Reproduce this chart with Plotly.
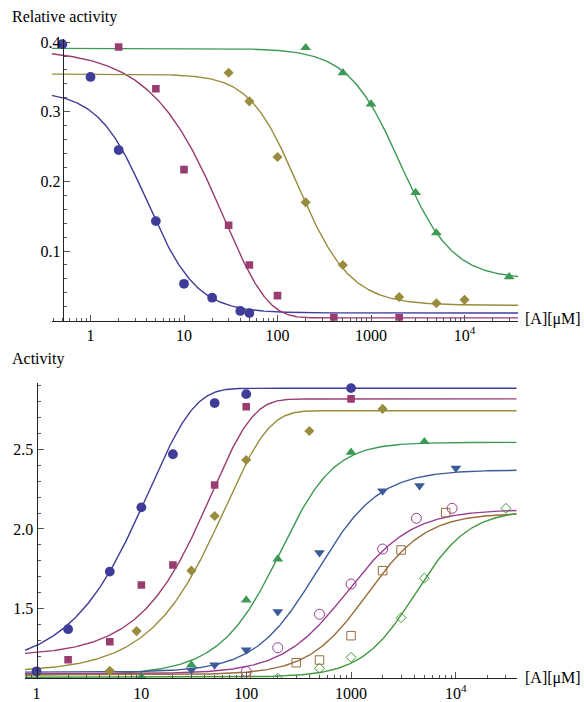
import numpy as np
import plotly.graph_objects as go

W, H = 584, 702

# ---------------- top panel data (Relative activity) ----------------
top_blue_x = [0.5, 1, 2, 5, 10, 20, 40, 50]
top_blue_y = [0.397, 0.350, 0.245, 0.143, 0.053, 0.033, 0.014, 0.011]
top_mag_x = [2, 5, 10, 30, 50, 100, 400, 2000]
top_mag_y = [0.393, 0.333, 0.217, 0.137, 0.080, 0.036, 0.005, 0.004]
top_gold_x = [30, 50, 100, 200, 500, 2000, 5000, 10000]
top_gold_y = [0.356, 0.315, 0.235, 0.170, 0.080, 0.034, 0.025, 0.030]
top_green_x = [200, 500, 1000, 3000, 5000, 30000]
top_green_y = [0.392, 0.356, 0.311, 0.184, 0.126, 0.063]

# fitted-curve parameters:
# (left level, right level, model, midpoint, steepness, asymmetry)
top_blue_fit = (0.330, 0.011, "hill", 4.05, 1.65, 1.0)
top_mag_fit = (0.390, 0.004, "weib", 27.1, 0.95, 1.0)
top_gold_fit = (0.354, 0.022, "hill", 137.0, 1.5, 1.3)
top_green_fit = (0.391, 0.060, "hill", 2059.0, 1.56, 1.0)

# ---------------- bottom panel data (Activity) ----------------
bot_blue_x = [1, 2, 5, 10, 20, 50, 100, 1000]
bot_blue_y = [1.105, 1.370, 1.732, 2.136, 2.470, 2.792, 2.848, 2.886]
bot_mag_x = [2, 5, 10, 20, 50, 100, 1000]
bot_mag_y = [1.178, 1.291, 1.648, 1.774, 2.277, 2.769, 2.818]
bot_gold_x = [5, 9, 30, 50, 100, 400, 2000]
bot_gold_y = [1.108, 1.358, 1.738, 2.082, 2.434, 2.616, 2.755]
bot_green_x = [10, 30, 100, 200, 1000, 5000]
bot_green_y = [1.071, 1.145, 1.553, 1.811, 2.482, 2.549]
bot_navy_x = [30, 50, 100, 200, 500, 2000, 4500, 10000]
bot_navy_y = [1.113, 1.145, 1.239, 1.480, 1.851, 2.239, 2.272, 2.382]
bot_purple_x = [100, 200, 500, 1000, 2000, 4200, 9200]
bot_purple_y = [1.103, 1.253, 1.464, 1.654, 1.874, 2.067, 2.130]
bot_brown_x = [100, 300, 500, 1000, 2000, 3000, 8000]
bot_brown_y = [1.071, 1.159, 1.176, 1.329, 1.738, 1.868, 2.103]
bot_lgreen_x = [200, 500, 1000, 3000, 5000, 30000]
bot_lgreen_y = [1.061, 1.124, 1.193, 1.442, 1.690, 2.130]

bot_blue_fit = (1.125, 2.885, "weib", 11.8, 1.0, 1.0)
bot_mag_fit = (1.200, 2.818, "weib", 46.9, 1.1, 1.0)
bot_gold_fit = (1.100, 2.744, "weib", 63.6, 1.05, 1.0)
bot_green_fit = (1.080, 2.545, "hill", 263.0, 1.8, 0.7)
bot_navy_fit = (1.100, 2.371, "hill", 473.0, 1.47, 1.0)
bot_purple_fit = (1.090, 2.122, "hill", 918.0, 1.4, 1.0)
bot_brown_fit = (1.083, 2.100, "hill", 1430.0, 1.55, 1.0)
bot_lgreen_fit = (1.068, 2.120, "hill", 4100.0, 1.7, 1.0)

# tick labels
x_tick_vals = [1, 10, 100, 1000, 10000]
x_tick_text = ["1", "10", "100", "1000", "10<sup>4</sup>"]
top_y_tick_vals = [0.1, 0.2, 0.3, 0.4]
top_y_tick_text = ["0.1", "0.2", "0.3", "0.4"]
bot_y_tick_vals = [1.5, 2.0, 2.5]
bot_y_tick_text = ["1.5", "2.0", "2.5"]

# Mathematica default palette
C_BLUE = "#3F3D99"
C_MAG = "#993D71"
C_GOLD = "#998C3D"
C_GREEN = "#3D9956"
C_NAVY = "#3D5A99"
C_PURPLE = "#993D90"
C_BROWN = "#996D3D"
C_LGREEN = "#43993D"

TOP_XR = [-0.415, 4.575]
BOT_XR = [-0.11, 4.58]
TOP_YR = [0.0, 0.4045]
BOT_YR = [1.061, 2.920]


def curve(fit, xr):
    left, right, model, c, h, s = fit
    x = np.logspace(xr[0], xr[1], 500)
    if model == "hill":
        g = (1.0 + (c / x) ** h) ** (-s)
    else:
        g = 1.0 - np.exp(-((x / c) ** h))
    return x, left + (right - left) * g


fig = go.Figure()

top_series = [
    (top_blue_x, top_blue_y, top_blue_fit, C_BLUE, "circle", 9.8),
    (top_mag_x, top_mag_y, top_mag_fit, C_MAG, "square", 7.6),
    (top_gold_x, top_gold_y, top_gold_fit, C_GOLD, "diamond", 7.8),
    (top_green_x, top_green_y, top_green_fit, C_GREEN, "triangle-up", 9.5),
]
bot_series = [
    (bot_blue_x, bot_blue_y, bot_blue_fit, C_BLUE, "circle", 9.8),
    (bot_mag_x, bot_mag_y, bot_mag_fit, C_MAG, "square", 7.6),
    (bot_gold_x, bot_gold_y, bot_gold_fit, C_GOLD, "diamond", 7.8),
    (bot_green_x, bot_green_y, bot_green_fit, C_GREEN, "triangle-up", 9.5),
    (bot_navy_x, bot_navy_y, bot_navy_fit, C_NAVY, "triangle-down", 9.5),
    (bot_purple_x, bot_purple_y, bot_purple_fit, C_PURPLE, "circle-open", 10),
    (bot_brown_x, bot_brown_y, bot_brown_fit, C_BROWN, "square-open", 8.5),
    (bot_lgreen_x, bot_lgreen_y, bot_lgreen_fit, C_LGREEN, "diamond-open", 7.6),
]

for series, xa, ya, xr in [(top_series, "x", "y", TOP_XR), (bot_series, "x2", "y2", BOT_XR)]:
    for xs, ys, fit, col, sym, sz in series:
        cx, cy = curve(fit, xr)
        fig.add_trace(go.Scatter(x=cx, y=cy, mode="lines", xaxis=xa, yaxis=ya,
                                 line=dict(color=col, width=1.4), hoverinfo="skip",
                                 showlegend=False))
    for xs, ys, fit, col, sym, sz in series:
        fig.add_trace(go.Scatter(x=xs, y=ys, mode="markers", xaxis=xa, yaxis=ya,
                                 marker=dict(symbol=sym, size=sz, color=col,
                                             line=dict(color=col, width=1 if "open" in sym else 0)),
                                 showlegend=False))


def log_minor(xr):
    vals = []
    for k in range(-1, 6):
        for d in range(2, 10):
            v = d * 10.0 ** k
            if xr[0] <= np.log10(v) <= xr[1]:
                vals.append(v)
    return vals


def lin_minor(lo, hi, step, majors):
    vals = []
    n = int(round((hi - lo) / step))
    for i in range(n + 1):
        v = round(lo + i * step, 4)
        if all(abs(v - m) > 1e-6 for m in majors):
            vals.append(v)
    return vals


FONT = dict(family="Liberation Serif, Times New Roman, serif", size=16, color="black")
AX = dict(showgrid=False, zeroline=False, showline=True, linecolor="#222", linewidth=1,
          ticks="inside", ticklen=6, tickwidth=1, tickcolor="#555", tickfont=FONT,
          automargin=False, fixedrange=True)

def px_x(p):
    return p / W

def px_y(p):
    return 1 - p / H

fig.update_layout(
    width=W, height=H, margin=dict(l=0, r=0, t=0, b=0),
    paper_bgcolor="white", plot_bgcolor="white", template="none",
    xaxis=dict(AX, type="log", range=TOP_XR, domain=[px_x(51.7), px_x(518.3)], anchor="y",
               tickmode="array", tickvals=x_tick_vals, ticktext=x_tick_text,
               minor=dict(tickvals=log_minor(TOP_XR), ticks="inside", ticklen=3,
                          tickcolor="#555", tickwidth=1)),
    yaxis=dict(AX, range=TOP_YR, domain=[px_y(320.7), px_y(39)], anchor="free",
               position=px_x(62.7), tickmode="array", tickvals=top_y_tick_vals,
               ticktext=top_y_tick_text, ticklabelstandoff=-1,
               minor=dict(tickvals=lin_minor(0.02, 0.40, 0.02, top_y_tick_vals), ticks="inside",
                          ticklen=3.5, tickcolor="#555", tickwidth=1)),
    xaxis2=dict(AX, type="log", range=BOT_XR, domain=[px_x(25), px_x(516.7)], anchor="y2",
                tickmode="array", tickvals=x_tick_vals, ticktext=x_tick_text,
                minor=dict(tickvals=log_minor(BOT_XR), ticks="inside", ticklen=3,
                           tickcolor="#555", tickwidth=1)),
    yaxis2=dict(AX, range=BOT_YR, domain=[px_y(678.3), px_y(382.7)], anchor="free",
                position=px_x(36.5), tickmode="array", tickvals=bot_y_tick_vals,
                ticktext=bot_y_tick_text,
                minor=dict(tickvals=lin_minor(1.1, 2.9, 0.1, bot_y_tick_vals), ticks="inside",
                           ticklen=3.5, tickcolor="#555", tickwidth=1)),
    showlegend=False,
)

ANN_FONT = dict(family="Liberation Serif, Times New Roman, serif", size=16, color="black")
for txt, x, y, anc in [("Relative activity", 10, 16.7, "left"), ("Activity", 10, 359, "left"),
                       ("[A][\u03bcM]", 583, 319, "right"), ("[A][\u03bcM]", 583, 677.5, "right")]:
    fig.add_annotation(text=txt, x=px_x(x), y=px_y(y), xref="paper", yref="paper",
                       xanchor=anc, yanchor="middle", showarrow=False, font=ANN_FONT)

fig.write_html("out.html", config={"displayModeBar": False},
               post_script="document.body.style.margin='0px';document.body.style.padding='0px';")
